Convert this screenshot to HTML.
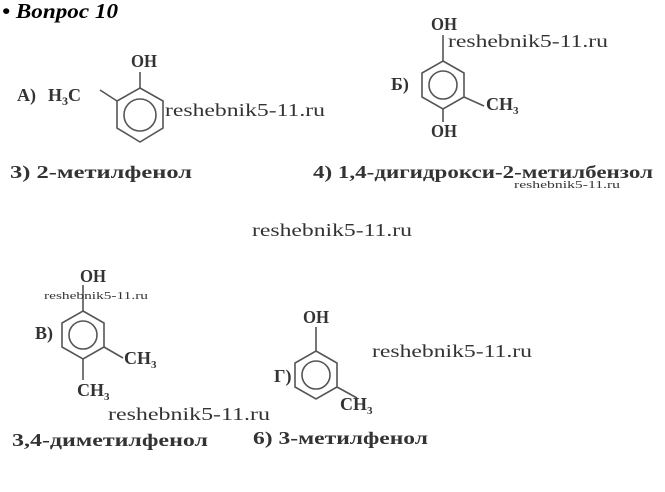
<!DOCTYPE html>
<html><head><meta charset="utf-8"><style>
html,body{margin:0;padding:0;background:#fff;width:665px;height:492px;overflow:hidden}
svg{display:block}
text{font-family:"Liberation Serif",serif;fill:#333}
.b{font-weight:bold}
</style></head><body>
<svg width="665" height="492" viewBox="0 0 665 492">
<g stroke="#555" stroke-width="1.6" fill="none">
<polygon points="140,88 163,101 163,128 140,142 117,128 117,101"/>
<circle cx="140" cy="115" r="16"/>
<line x1="140" y1="88" x2="140" y2="72"/>
<line x1="117" y1="101" x2="100" y2="90"/>
<polygon points="443,61 464,73 464,97 443,109 422,97 422,73"/>
<circle cx="443" cy="85" r="14"/>
<line x1="443" y1="61" x2="443" y2="35"/>
<line x1="443" y1="109" x2="443" y2="122"/>
<line x1="464" y1="97" x2="484" y2="106"/>
<polygon points="83,311 104,323 104,347 83,359 62,347 62,323"/>
<circle cx="83" cy="335" r="14"/>
<line x1="83" y1="311" x2="83" y2="285"/>
<line x1="104" y1="347" x2="123" y2="358"/>
<line x1="83" y1="359" x2="83" y2="380"/>
<polygon points="316,351 337,363 337,387 316,399 295,387 295,363"/>
<circle cx="316" cy="375" r="14"/>
<line x1="316" y1="351" x2="316" y2="327"/>
<line x1="337" y1="387" x2="357" y2="398"/>
</g>
<text x="2" y="18" font-size="21" font-weight="bold" font-style="italic" style="fill:#000" textLength="116" lengthAdjust="spacingAndGlyphs">• Вопрос 10</text>
<text x="131" y="67" font-size="18" class="b" textLength="26" lengthAdjust="spacingAndGlyphs">OH</text>
<text x="17" y="101" font-size="18" class="b">A)</text>
<text x="48" y="101" font-size="18" class="b">H<tspan font-size="12" dy="4">3</tspan><tspan dy="-4">C</tspan></text>
<text x="165" y="116" font-size="18" textLength="160" lengthAdjust="spacingAndGlyphs">reshebnik5-11.ru</text>
<text x="10" y="178" font-size="18" class="b" textLength="182" lengthAdjust="spacingAndGlyphs">3) 2-метилфенол</text>
<text x="431" y="30" font-size="18" class="b" textLength="26" lengthAdjust="spacingAndGlyphs">OH</text>
<text x="448" y="47" font-size="18" textLength="160" lengthAdjust="spacingAndGlyphs">reshebnik5-11.ru</text>
<text x="391" y="90" font-size="18" class="b">Б)</text>
<text x="486" y="110" font-size="18" class="b">CH<tspan font-size="11" dy="4">3</tspan></text>
<text x="431" y="137" font-size="18" class="b" textLength="26" lengthAdjust="spacingAndGlyphs">OH</text>
<text x="313" y="178" font-size="18" class="b" textLength="340" lengthAdjust="spacingAndGlyphs">4) 1,4-дигидрокси-2-метилбензол</text>
<text x="514" y="188" font-size="11" textLength="106" lengthAdjust="spacingAndGlyphs">reshebnik5-11.ru</text>
<text x="252" y="236" font-size="18" textLength="160" lengthAdjust="spacingAndGlyphs">reshebnik5-11.ru</text>
<text x="80" y="282" font-size="18" class="b" textLength="26" lengthAdjust="spacingAndGlyphs">OH</text>
<text x="44" y="299" font-size="11" textLength="104" lengthAdjust="spacingAndGlyphs">reshebnik5-11.ru</text>
<text x="35" y="339" font-size="18" class="b">B)</text>
<text x="124" y="364" font-size="18" class="b">CH<tspan font-size="11" dy="4">3</tspan></text>
<text x="77" y="396" font-size="18" class="b">CH<tspan font-size="11" dy="4">3</tspan></text>
<text x="108" y="420" font-size="18" textLength="162" lengthAdjust="spacingAndGlyphs">reshebnik5-11.ru</text>
<text x="12" y="446" font-size="18" class="b" textLength="196" lengthAdjust="spacingAndGlyphs">3,4-диметилфенол</text>
<text x="303" y="323" font-size="18" class="b" textLength="26" lengthAdjust="spacingAndGlyphs">OH</text>
<text x="372" y="357" font-size="18" textLength="160" lengthAdjust="spacingAndGlyphs">reshebnik5-11.ru</text>
<text x="274" y="382" font-size="18" class="b">Г)</text>
<text x="340" y="410" font-size="18" class="b">CH<tspan font-size="11" dy="4">3</tspan></text>
<text x="253" y="444" font-size="18" class="b" textLength="175" lengthAdjust="spacingAndGlyphs">6) 3-метилфенол</text>
</svg>
</body></html>
